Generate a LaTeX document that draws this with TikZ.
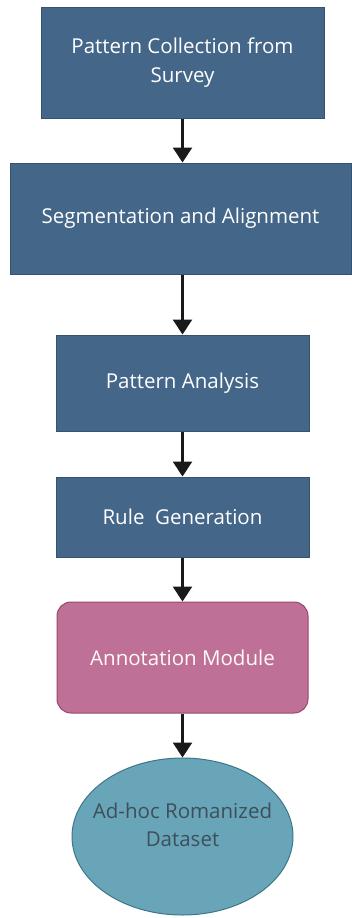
\documentclass[tikz,border=0pt]{standalone}
\usepackage{fontspec}
\setmainfont{Open Sans}
\usetikzlibrary{arrows.meta,shapes.geometric}
\definecolor{stepblue}{HTML}{446688}
\definecolor{stepblueline}{HTML}{34536F}
\definecolor{modpink}{HTML}{BF7096}
\definecolor{modpinkline}{HTML}{99476B}
\definecolor{datateal}{HTML}{68A5B9}
\definecolor{datatealline}{HTML}{3F7588}
\definecolor{datatext}{HTML}{3E4F5A}
\begin{document}
\begin{tikzpicture}[x=1pt, y=1pt,
		stagebox/.style={draw=stepblueline, fill=stepblue, text=white, line width=1pt, align=center, font=\fontsize{20.5}{29}\selectfont, inner sep=0pt},
		flow/.style={line width=2.8pt, black!90, -{Triangle[width=19pt,length=15pt]}}]
	\useasboundingbox (0,0) rectangle (352,-918);
	\node[stagebox, minimum width=283, minimum height=111] (collect) at (182.5,-62.5) {Pattern Collection from\\Survey};
	\node[stagebox, minimum width=341, minimum height=111] (segment) at (180.5,-218.5) {Segmentation and Alignment};
	\node[stagebox, minimum width=253, minimum height=96] (analysis) at (182.5,-383) {Pattern Analysis};
	\node[stagebox, minimum width=253, minimum height=80] (rules) at (182.5,-517) {Rule~~Generation};
	\node[stagebox, draw=modpinkline, fill=modpink, text=white!92!pink, rounded corners=14pt, minimum width=251, minimum height=111] (annot) at (182.5,-657.5) {Annotation Module};
	\node[ellipse, draw=datatealline, fill=datateal, line width=1pt, minimum width=221, minimum height=157, inner sep=0pt] (data) at (182.5,-836.5) {};
	\node[text=datatext, align=center, font=\fontsize{20.5}{28}\selectfont] (datatxt) at (182.5,-825) {Ad-hoc Romanized\\Dataset};
	% connectors
	\draw[flow] (collect.south) -- (collect.south |- segment.north);
	\draw[flow] (collect.south |- segment.south) -- (analysis.north);
	\draw[flow] (analysis) -- (rules);
	\draw[flow] (rules) -- (annot);
	\draw[flow] (annot) -- (data);
\end{tikzpicture}
\end{document}
